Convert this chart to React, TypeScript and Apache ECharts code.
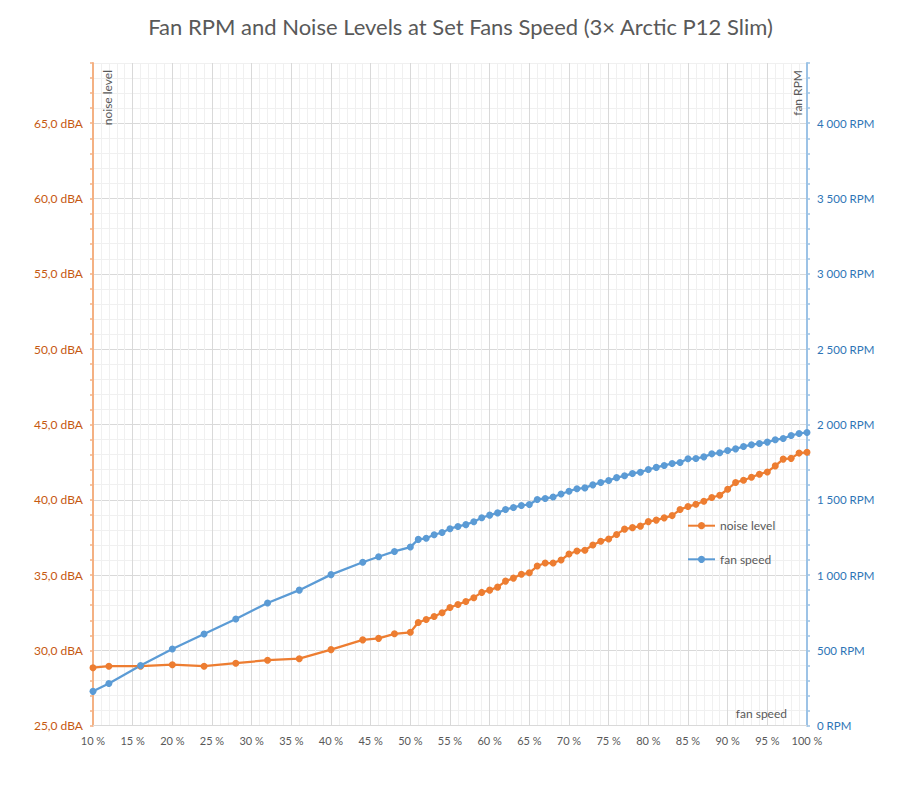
import React, { useEffect, useRef } from "react";
import * as echarts from "echarts";

const fanSpeedPct = [
  10, 12, 16, 20, 24, 28, 32, 36, 40, 44, 46, 48, 50,
  51, 52, 53, 54, 55, 56, 57, 58, 59, 60,
  61, 62, 63, 64, 65, 66, 67, 68, 69, 70,
  71, 72, 73, 74, 75, 76, 77, 78, 79, 80,
  81, 82, 83, 84, 85, 86, 87, 88, 89, 90,
  91, 92, 93, 94, 95, 96, 97, 98, 99, 100,
];

const noiseLevel = [
  28.85, 28.95, 28.95, 29.05, 28.95, 29.15, 29.35, 29.45, 30.05, 30.7, 30.8, 31.1, 31.2,
  31.85, 32.05, 32.25, 32.5, 32.85, 33.05, 33.25, 33.5, 33.85, 34.0,
  34.2, 34.6, 34.8, 35.05, 35.15, 35.6, 35.8, 35.8, 36.0, 36.4,
  36.6, 36.65, 37.0, 37.25, 37.4, 37.7, 38.05, 38.15, 38.25, 38.55,
  38.65, 38.8, 38.95, 39.35, 39.55, 39.7, 39.9, 40.15, 40.3, 40.7,
  41.15, 41.3, 41.5, 41.7, 41.85, 42.25, 42.7, 42.75, 43.1, 43.15,
];

const fanRpm = [
  228, 280, 400, 509, 609, 708, 815, 900, 1003, 1085, 1122, 1157, 1186,
  1237, 1244, 1268, 1283, 1308, 1323, 1335, 1354, 1381, 1398,
  1413, 1436, 1449, 1462, 1469, 1502, 1509, 1518, 1538, 1557,
  1573, 1579, 1599, 1615, 1628, 1647, 1659, 1675, 1683, 1701,
  1715, 1728, 1741, 1748, 1772, 1774, 1785, 1805, 1812, 1827,
  1838, 1854, 1865, 1874, 1883, 1898, 1907, 1927, 1940, 1947,
];

const TITLE = "Fan RPM and Noise Levels at Set Fans Speed (3× Arctic P12 Slim)";
const SERIES_NAMES = ["noise level", "fan speed"];
const LEFT_AXIS_NAME = "noise level";
const RIGHT_AXIS_NAME = "fan RPM";
const X_AXIS_NAME = "fan speed";

const FONT = "Lato, 'Open Sans', sans-serif";
const GRAY = "#595959";
const MAJOR = "#D9D9D9";
const MINOR = "#F0F0F0";
const gridColors = [MAJOR, MINOR, MINOR, MINOR, MINOR];

function fmtRpm(v: number): string {
  if (v >= 1000) {
    const th = Math.floor(v / 1000);
    const rest = String(v % 1000).padStart(3, "0");
    return `${th} ${rest} RPM`;
  }
  return `${v} RPM`;
}

export default function App() {
  const ref = useRef<HTMLDivElement>(null);
  useEffect(() => {
    document.body.style.margin = "0";
    const chart = echarts.init(ref.current!, undefined, { renderer: "svg" });
    const noiseData = fanSpeedPct.map((x, i) => [x, noiseLevel[i]]);
    const rpmData = fanSpeedPct.map((x, i) => [x, fanRpm[i]]);
    chart.setOption({
      animation: false,
      backgroundColor: "#ffffff",
      textStyle: { fontFamily: FONT },
      title: {
        text: TITLE,
        left: "center",
        top: 10,
        textStyle: { fontFamily: FONT, fontSize: 22, fontWeight: "normal", color: GRAY },
      },
      grid: { left: 93, right: 114, top: 63, bottom: 63.3, containLabel: false },
      legend: {
        orient: "vertical",
        left: 682,
        top: 514.7,
        itemWidth: 27,
        itemHeight: 9,
        itemGap: 21.6,
        data: SERIES_NAMES,
        textStyle: { fontFamily: FONT, fontSize: 12, color: GRAY },
      },
      xAxis: {
        type: "value",
        min: 10,
        max: 100,
        interval: 1,
        axisLine: { show: true, lineStyle: { color: MAJOR, width: 1 } },
        axisTick: { show: false },
        axisLabel: {
          color: GRAY,
          fontSize: 11,
          fontFamily: FONT,
          margin: 9,
          formatter: (v: number) => (v % 5 === 0 ? `${v} %` : ""),
        },
        splitLine: { show: true, lineStyle: { color: gridColors, width: 1 } },
      },
      yAxis: [
        {
          type: "value",
          position: "left",
          min: 25,
          max: 69,
          interval: 1,
          axisLine: { show: true, lineStyle: { color: "#F4B183", width: 2 } },
          axisTick: { show: true, length: 3, lineStyle: { color: "#F4B183", width: 1.5 } },
          axisLabel: {
            color: "#C65911",
            fontSize: 12,
            fontFamily: FONT,
            margin: 10,
            formatter: (v: number) => (v % 5 === 0 ? `${v.toFixed(1).replace(".", ",")} dBA` : ""),
          },
          splitLine: { show: true, lineStyle: { color: gridColors, width: 1 } },
        },
        {
          type: "value",
          position: "right",
          min: 0,
          max: 4400,
          interval: 100,
          axisLine: { show: true, lineStyle: { color: "#9DC3E6", width: 2 } },
          axisTick: { show: true, length: 3, lineStyle: { color: "#9DC3E6", width: 1.5 } },
          axisLabel: {
            color: "#2E75B6",
            fontSize: 11.5,
            fontFamily: FONT,
            margin: 10,
            formatter: (v: number) => (v % 500 === 0 ? fmtRpm(v) : ""),
          },
          splitLine: { show: false },
        },
      ],
      graphic: [
        {
          type: "text",
          x: 107,
          y: 70,
          z: 100,
          rotation: Math.PI / 2,
          style: {
            text: LEFT_AXIS_NAME,
            fill: GRAY,
            font: `12px ${FONT}`,
            textAlign: "right",
            textVerticalAlign: "middle",
          },
        },
        {
          type: "text",
          x: 797,
          y: 70,
          z: 100,
          rotation: Math.PI / 2,
          style: {
            text: RIGHT_AXIS_NAME,
            fill: GRAY,
            font: `12px ${FONT}`,
            textAlign: "right",
            textVerticalAlign: "middle",
          },
        },
        {
          type: "text",
          x: 787,
          y: 713,
          z: 100,
          style: {
            text: X_AXIS_NAME,
            fill: GRAY,
            font: `12px ${FONT}`,
            textAlign: "right",
            textVerticalAlign: "middle",
          },
        },
      ],
      series: [
        {
          name: SERIES_NAMES[0],
          type: "line",
          yAxisIndex: 0,
          data: noiseData,
          symbol: "circle",
          symbolSize: 7,
          showAllSymbol: true,
          clip: false,
          color: "#ED7D31",
          lineStyle: { color: "#ED7D31", width: 2.25 },
          itemStyle: { color: "#ED7D31" },
        },
        {
          name: SERIES_NAMES[1],
          type: "line",
          yAxisIndex: 1,
          data: rpmData,
          symbol: "circle",
          symbolSize: 7,
          showAllSymbol: true,
          clip: false,
          color: "#5B9BD5",
          lineStyle: { color: "#5B9BD5", width: 2.25 },
          itemStyle: { color: "#5B9BD5" },
        },
      ],
    });
    return () => chart.dispose();
  }, []);
  return <div ref={ref} style={{ width: 921, height: 789 }} />;
}
